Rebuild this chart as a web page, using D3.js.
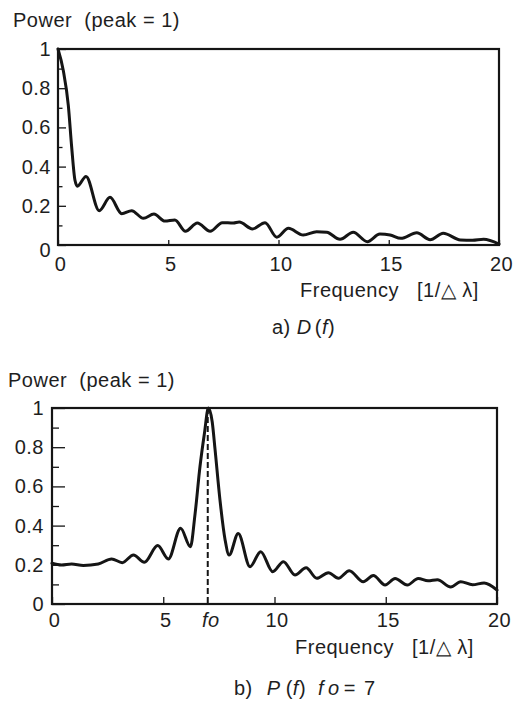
<!DOCTYPE html>
<html><head><meta charset="utf-8">
<script src="https://cdn.jsdelivr.net/npm/d3@7"></script>
<style>
body{margin:0;background:#fff;}
svg text{font-family:"Liberation Sans",Arial,Helvetica,sans-serif;font-size:20px;fill:#1e1e1e;letter-spacing:0.5px;white-space:pre;}
</style></head><body><svg id="c" width="519" height="708"></svg>
<script>
// ---- data ----
const freqA = [0, 0.24, 0.47, 0.62, 0.77, 0.88, 1.27, 1.87, 2.36, 2.89, 3.34, 3.87, 4.35, 4.85, 5.3, 5.78, 6.32, 6.9, 7.45, 7.95, 8.22, 8.82, 9.39, 9.92, 10.45, 11.12, 11.73, 12.19, 12.79, 13.39, 14.03, 14.6, 15.06, 15.55, 16.27, 16.88, 17.47, 18.25, 18.8, 19.3, 20];
const powerA = [1.0, 0.89, 0.71, 0.50, 0.33, 0.30, 0.35, 0.175, 0.243, 0.16, 0.175, 0.136, 0.158, 0.122, 0.128, 0.07, 0.112, 0.07, 0.114, 0.112, 0.117, 0.082, 0.114, 0.04, 0.085, 0.051, 0.068, 0.065, 0.029, 0.065, 0.017, 0.056, 0.051, 0.034, 0.062, 0.027, 0.06, 0.026, 0.024, 0.029, 0.005];
const freqB = [0, 0.43, 0.88, 1.41, 2.08, 2.68, 3.16, 3.66, 4.15, 4.75, 5.23, 5.78, 6.22, 6.43, 6.65, 6.85, 7.03, 7.2, 7.33, 7.55, 7.78, 7.96, 8.37, 8.9, 9.38, 9.92, 10.4, 10.92, 11.42, 11.9, 12.42, 12.87, 13.36, 13.99, 14.44, 14.97, 15.42, 15.97, 16.46, 16.9, 17.32, 17.92, 18.37, 18.9, 19.42, 20];
const powerB = [0.208, 0.199, 0.204, 0.197, 0.204, 0.23, 0.211, 0.25, 0.213, 0.298, 0.23, 0.386, 0.292, 0.46, 0.70, 0.87, 1.0, 0.93, 0.786, 0.53, 0.327, 0.25, 0.36, 0.19, 0.267, 0.165, 0.216, 0.148, 0.185, 0.131, 0.16, 0.131, 0.17, 0.114, 0.145, 0.097, 0.13, 0.097, 0.13, 0.118, 0.124, 0.087, 0.114, 0.098, 0.107, 0.071];
const xTicks = [0, 5, 10, 15, 20];
const yTicks = [0, 0.2, 0.4, 0.6, 0.8, 1];
const yMinor = [0.1, 0.3, 0.5, 0.7, 0.9];
const fo = 7;
const yTitle = "Power  (peak = 1)";
const xTitle = "Frequency";
const xUnit = "[1/\u25B3 \u03BB]";

const svg = d3.select("#c");
const INK = "#151515";

function panel(cfg) {
  const x = d3.scaleLinear().domain([0, 20]).range([cfg.left, cfg.right]);
  const y = d3.scaleLinear().domain([0, 1]).range([cfg.bottom, cfg.top]);
  const g = svg.append("g");

  // minor y ticks
  g.append("g").attr("transform", `translate(${cfg.left},0)`)
    .call(d3.axisLeft(y).tickValues(yMinor).tickSizeInner(-cfg.minorLen).tickSizeOuter(0).tickFormat(""))
    .call(s => s.select(".domain").remove())
    .call(s => s.selectAll("line").attr("stroke", INK).attr("stroke-width", 1.3));
  // major y ticks + labels
  const ya = g.append("g").attr("transform", `translate(${cfg.left},0)`)
    .call(d3.axisLeft(y).tickValues(yTicks).tickSizeInner(-cfg.majorLen).tickSizeOuter(0).tickPadding(cfg.yPad).tickFormat(d => String(d)))
    .call(s => s.select(".domain").remove())
    .call(s => s.selectAll("line").attr("stroke", INK).attr("stroke-width", 1.3));
  ya.selectAll("text").attr("font-family", null).attr("font-size", null).attr("fill", null);
  if (cfg.zeroShift) ya.selectAll(".tick").filter(d => d === 0).select("text").attr("dy", (0.32 * 20 + cfg.zeroShift) + "px");

  // x ticks + labels
  const xa = g.append("g").attr("transform", `translate(0,${cfg.bottom})`)
    .call(d3.axisBottom(x).tickValues(xTicks).tickSizeInner(-cfg.xTickLen).tickSizeOuter(0).tickPadding(cfg.xPad).tickFormat(d => String(d)))
    .call(s => s.select(".domain").remove())
    .call(s => s.selectAll("line").attr("stroke", INK).attr("stroke-width", 1.3));
  xa.selectAll("text").attr("font-family", null).attr("font-size", null).attr("fill", null).attr("dx", "2px");

  // curve
  const line = d3.line().x(d => x(d[0])).y(d => y(d[1])).curve(d3.curveMonotoneX);
  g.append("path").datum(cfg.fx.map((f, i) => [f, cfg.py[i]]))
    .attr("d", line).attr("fill", "none").attr("stroke", INK)
    .attr("stroke-width", 3).attr("stroke-linejoin", "round").attr("stroke-linecap", "round");

  // frame
  g.append("rect").attr("x", x(0)).attr("y", y(1))
    .attr("width", x(20) - x(0)).attr("height", y(0) - y(1))
    .attr("fill", "none").attr("stroke", INK).attr("stroke-width", 2.2);

  // titles
  g.append("text").attr("x", cfg.titleX).attr("y", cfg.titleY).text(yTitle);
  const xt = g.append("text").attr("x", cfg.freqX).attr("y", cfg.freqY);
  xt.append("tspan").text(xTitle);
  xt.append("tspan").attr("x", cfg.freqX + 117).text(xUnit);
  return {x, y, g};
}

// panel a
const A = panel({left: 58, right: 499, top: 49, bottom: 245, fx: freqA, py: powerA,
  minorLen: 4.5, majorLen: 8, xTickLen: 5, yPad: 7, xPad: 11.5, zeroShift: 5,
  titleX: 13, titleY: 27, freqX: 300, freqY: 297});
const capA = A.g.append("text").attr("x", 272).attr("y", 334);
capA.append("tspan").text("a)");
capA.append("tspan").attr("dx", 6).attr("font-style", "italic").text("D");
capA.append("tspan").attr("dx", 3).text("(");
capA.append("tspan").attr("font-style", "italic").text("f");
capA.append("tspan").text(")");

// panel b
const B = panel({left: 52, right: 497, top: 408, bottom: 604, fx: freqB, py: powerB,
  minorLen: 7, majorLen: 13, xTickLen: 7, yPad: 8, xPad: 9, zeroShift: 0,
  titleX: 8, titleY: 387, freqX: 295, freqY: 654});
B.g.append("line").attr("x1", B.x(fo)).attr("x2", B.x(fo))
  .attr("y1", B.y(1)).attr("y2", B.y(0))
  .attr("stroke", INK).attr("stroke-width", 2).attr("stroke-dasharray", "6,3");
B.g.append("text").attr("x", B.x(fo) + 3).attr("y", 627).attr("text-anchor", "middle")
  .attr("font-style", "italic").text("fo");
const capB = B.g.append("text").attr("x", 234).attr("y", 695);
capB.append("tspan").text("b)");
capB.append("tspan").attr("dx", 14).attr("font-style", "italic").text("P");
capB.append("tspan").attr("dx", 5).text("(");
capB.append("tspan").attr("font-style", "italic").text("f");
capB.append("tspan").text(")");
capB.append("tspan").attr("dx", 12).attr("font-style", "italic").text("f");
capB.append("tspan").attr("dx", 4).attr("font-style", "italic").text("o");
capB.append("tspan").attr("dx", 4).text("=");
capB.append("tspan").attr("dx", 8).text("7");
</script></body></html>
